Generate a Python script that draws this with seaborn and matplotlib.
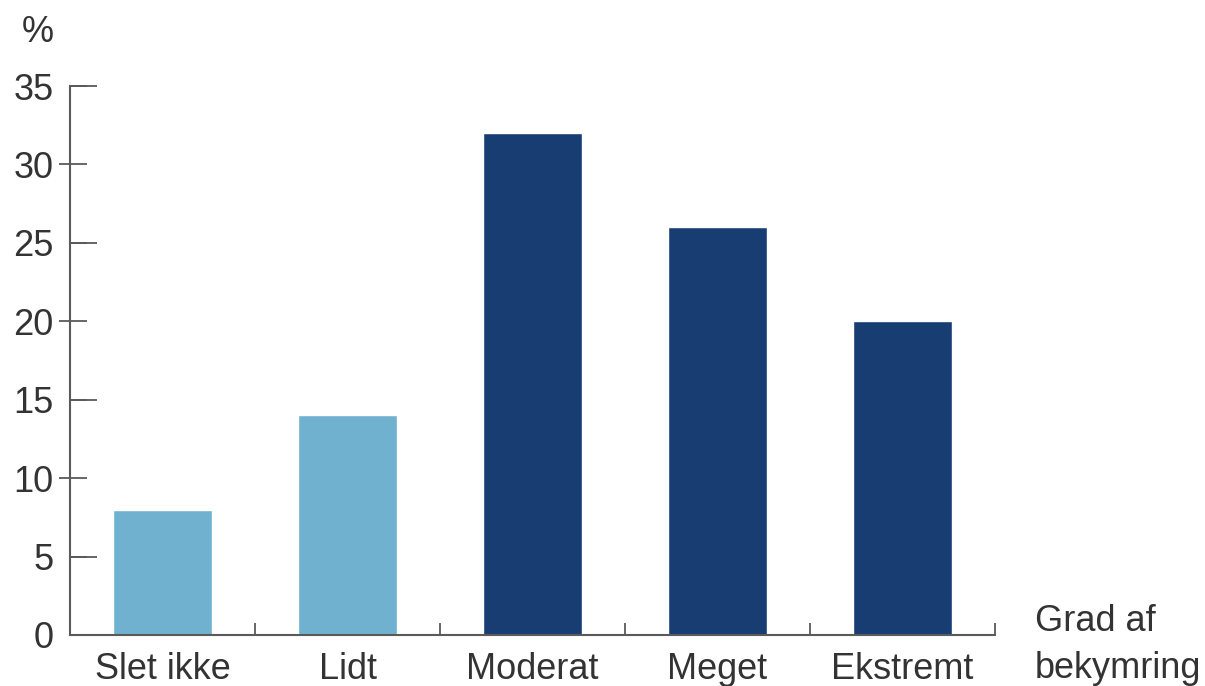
import matplotlib
matplotlib.use('Agg')
import matplotlib.pyplot as plt
import seaborn as sns
import pandas as pd

sns.set_theme(style='white')
plt.rcParams['font.family'] = ['Liberation Sans', 'DejaVu Sans']

categories = ['Slet ikke', 'Lidt', 'Moderat', 'Meget', 'Ekstremt']
values = [8, 14, 32, 26, 20]
bar_colors = ['#71B1D0', '#71B1D0', '#173D73', '#173D73', '#173D73']
y_ticks = [0, 5, 10, 15, 20, 25, 30, 35]
long_ticks = [5, 15, 25, 35]
cross_ticks = [10, 20, 30]

df = pd.DataFrame({'grad': categories, 'pct': values})
text_color = '#333333'
axis_color = '#5a5a5a'
fs = 26

fig = plt.figure(figsize=(12.05, 6.86), dpi=100)
ax = fig.add_axes([70 / 1205, 51 / 686, 925 / 1205, 549 / 686])

sns.barplot(data=df, x='grad', y='pct', hue='grad', palette=bar_colors,
            width=0.535, saturation=1, legend=False, ax=ax)

ax.set_xlim(-0.5, 4.5)
ax.set_ylim(0, 35)
ax.set_xlabel('')
ax.set_ylabel('')

for s in ['top', 'right']:
    ax.spines[s].set_visible(False)
for s in ['left', 'bottom']:
    ax.spines[s].set_color(axis_color)
    ax.spines[s].set_linewidth(1.5)

ax.tick_params(which='both', left=True, bottom=True)
ax.yaxis.remove_overlapping_locs = False
ax.xaxis.remove_overlapping_locs = False

# y ticks: all labelled with short inward marks; odd fives get longer marks
ax.set_yticks(y_ticks)
ax.set_yticks(long_ticks, minor=True)
ax.tick_params(axis='y', which='major', direction='in', length=12.2, width=1.3,
               color=axis_color, labelsize=fs, labelcolor=text_color, pad=12)
ax.tick_params(axis='y', which='minor', direction='in', length=19.5, width=1.3,
               color=axis_color)

# tens also stick out to the left
sec = ax.secondary_yaxis('left')
sec.spines['left'].set_visible(False)
sec.set_yticks(cross_ticks)
sec.set_yticklabels([])
sec.tick_params(axis='y', direction='out', length=8, width=1.3,
                color=axis_color, left=True)

# x ticks: labels at bars, small inward marks at category borders
ax.set_xticks(range(len(categories)))
ax.set_xticklabels(categories)
ax.set_xticks([0.5, 1.5, 2.5, 3.5, 4.5], minor=True)
ax.tick_params(axis='x', which='major', length=0, labelsize=fs,
               labelcolor=text_color, pad=12)
ax.tick_params(axis='x', which='minor', direction='in', length=9, width=1.3,
               color=axis_color)

fig.text(38 / 1205, 1 - 33 / 686, '%', fontsize=fs, color=text_color,
         ha='center', va='center')
fig.text(1035 / 1205, 1 - 645 / 686, 'Grad af\nbekymring', fontsize=fs,
         color=text_color, ha='left', va='center', linespacing=1.45)

plt.savefig('out.png', dpi=100, facecolor='white')
plt.close()
